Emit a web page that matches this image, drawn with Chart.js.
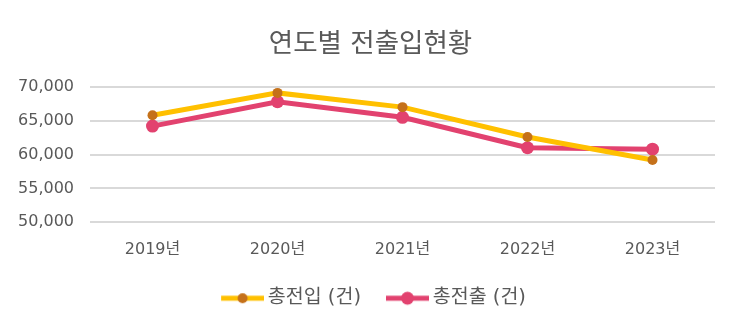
<!DOCTYPE html>
<html><head><meta charset="utf-8">
<script src="https://cdn.jsdelivr.net/npm/chart.js@4/dist/chart.umd.min.js"></script>
<style>html,body{margin:0;padding:0;background:#fff}#wrap{width:741px;height:327px}</style>
</head><body><div id="wrap"><canvas id="c" width="741" height="327"></canvas></div>
<script>
const categories = ['2019년', '2020년', '2021년', '2022년', '2023년'];
const inflow = [65800, 69100, 67000, 62600, 59200];
const outflow = [64200, 67800, 65500, 61000, 60800];
const seriesNames = ['총전입 (건)', '총전출 (건)'];
const yMin = 50000, yMax = 70000, yStep = 5000;
const title = '연도별 전출입현황';

const FONT = '"DejaVu Sans", "Noto Sans CJK KR", sans-serif';
const TXT = '#595959';
const Y_LINE = '#FFC000', Y_PT = '#C5711A';
const R_LINE = '#E2426F', R_PT = '#E2426F';
const LEG_BOX = 43;

function legendIcon(lineColor, ptColor, r) {
  const c = document.createElement('canvas');
  const w = LEG_BOX + 12;
  c.width = w; c.height = 16;
  const g = c.getContext('2d');
  g.strokeStyle = lineColor; g.lineWidth = 5; g.lineCap = 'butt';
  g.beginPath(); g.moveTo(w - 43, 8); g.lineTo(w, 8); g.stroke();
  g.fillStyle = ptColor; g.beginPath(); g.arc(w - 21.5, 8, r, 0, Math.PI * 2); g.fill();
  return c;
}

// center title and legend on the full canvas width
const centerBlocks = {
  id: 'centerBlocks',
  afterLayout(chart) {
    [chart.titleBlock, chart.legend].forEach(b => {
      if (!b) return;
      const w = b.right - b.left;
      b.left = (chart.width - w) / 2; b.right = b.left + w;
    });
    if (chart.titleBlock) { chart.titleBlock.left = 0; chart.titleBlock.right = chart.width; }
  }
};

new Chart(document.getElementById('c'), {
  type: 'line',
  data: {
    labels: categories,
    datasets: [
      { label: seriesNames[0], data: inflow, borderColor: Y_LINE, backgroundColor: Y_PT,
        pointBackgroundColor: Y_PT, pointBorderColor: Y_PT, pointRadius: 5, pointBorderWidth: 0,
        borderWidth: 5, tension: 0, pointStyle: 'circle', legendIcon: legendIcon(Y_LINE, Y_PT, 5) },
      { label: seriesNames[1], data: outflow, borderColor: R_LINE, backgroundColor: R_PT,
        pointBackgroundColor: R_PT, pointBorderColor: R_PT, pointRadius: 6.5, pointBorderWidth: 0,
        borderWidth: 5, tension: 0, pointStyle: 'circle', legendIcon: legendIcon(R_LINE, R_PT, 6.5) }
    ]
  },
  plugins: [centerBlocks],
  options: {
    responsive: false, animation: false, events: [],
    layout: { padding: { left: 10, right: 26, top: 0, bottom: 9 } },
    plugins: {
      title: { display: true, text: title, color: TXT, font: { family: FONT, size: 26.5, weight: 'normal' },
        padding: { top: 29, bottom: 26 } },
      legend: { position: 'bottom',
        labels: { usePointStyle: true, pointStyleWidth: LEG_BOX, color: TXT,
          font: { family: FONT, size: 19.5 }, padding: 19,
          generateLabels(chart) {
            return chart.data.datasets.map((ds, i) => ({
              text: ds.label, fontColor: TXT, pointStyle: ds.legendIcon,
              fillStyle: ds.borderColor, strokeStyle: ds.borderColor, lineWidth: 0,
              hidden: false, datasetIndex: i }));
          } } },
      tooltip: { enabled: false }
    },
    scales: {
      x: { offset: true, grid: { display: false }, border: { display: false },
        ticks: { color: TXT, font: { family: FONT, size: 16 }, padding: 10 } },
      y: { min: yMin, max: yMax,
        afterFit(s) { s.width = 80; },
        grid: { color: '#D9D9D9', lineWidth: 2, drawTicks: false }, border: { display: false },
        ticks: { stepSize: yStep, color: TXT, font: { family: FONT, size: 16 }, padding: 16,
          callback: v => v.toLocaleString('en-US') } }
    }
  }
});
</script></body></html>
